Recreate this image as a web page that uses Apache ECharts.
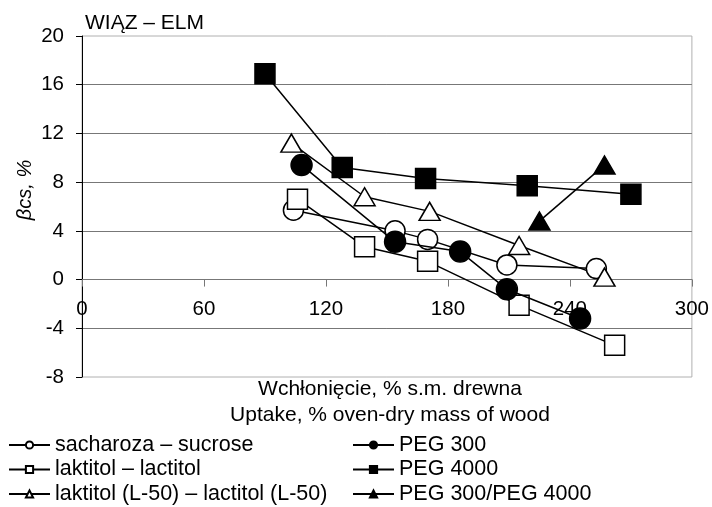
<!DOCTYPE html>
<html>
<head>
<meta charset="utf-8">
<script src="https://cdn.jsdelivr.net/npm/echarts@6/dist/echarts.min.js"></script>
<style>
html,body{margin:0;padding:0;background:#fff;}
#chart{width:712px;height:507px;}
</style>
</head>
<body>
<div id="chart"></div>
<script>
// Data: [uptake %, βcs %]
const sacharoza = [[104, 5.7], [154, 4.0], [170, 3.3], [209, 1.2], [253, 0.9]];
const laktitol = [[106, 6.6], [139, 2.7], [170, 1.5], [215, -2.1], [262, -5.4]];
const laktitolL50 = [[103, 11.2], [139, 6.8], [171, 5.6], [215, 2.8], [257, 0.2]];
const peg300 = [[108, 9.4], [154, 3.1], [186, 2.3], [209, -0.8], [245, -3.2]];
const peg4000 = [[90, 16.9], [128, 9.2], [169, 8.3], [219, 7.7], [270, 7.0]];
const peg300peg4000 = [[225, 4.8], [257, 9.4]];

const seriesNames = ['sacharoza – sucrose', 'laktitol – lactitol', 'laktitol (L-50) – lactitol (L-50)', 'PEG 300', 'PEG 4000', 'PEG 300/PEG 4000'];
const xTicks = [0, 60, 120, 180, 240, 300];
const yTicks = [-8, -4, 0, 4, 8, 12, 16, 20];
const titleText = 'WIĄZ – ELM';
const xName1 = 'Wchłonięcie, % s.m. drewna';
const xName2 = 'Uptake, % oven-dry mass of wood';
const yName = 'βcs, %';

const FONT = 'Liberation Sans, Arial, sans-serif';
const W = 712, H = 507;
const gridTop = 36, gridBottom = 130, gridLeft = 82, gridRight = 18;
const yMin = yTicks[0], yMax = yTicks[yTicks.length - 1];
const gridH = H - gridTop - gridBottom;
// place the x axis (line, ticks, labels) on y = 0
const xAxisOffset = -gridH * (0 - yMin) / (yMax - yMin);

const chart = echarts.init(document.getElementById('chart'), null, {renderer: 'canvas'});

function mk(name, data, symbol, size, filled) {
  return {
    name: name,
    type: 'line',
    data: data,
    symbol: symbol,
    symbolSize: size,
    showAllSymbol: true,
    animation: false,
    lineStyle: {color: '#000', width: 1.5},
    itemStyle: {color: filled ? '#000' : '#fff', borderColor: '#000', borderWidth: 1.5, opacity: 1},
    emphasis: {disabled: true},
    z: filled ? 3 : 2
  };
}

const legendText = {fontSize: 21.5, color: '#000', lineHeight: 21.5, fontFamily: FONT};

const option = {
  backgroundColor: '#fff',
  animation: false,
  textStyle: {fontFamily: FONT},
  grid: {left: gridLeft, right: gridRight, top: gridTop, bottom: gridBottom, show: true, borderColor: '#b0b0b0', borderWidth: 1, containLabel: false},
  xAxis: {
    type: 'value', min: xTicks[0], max: xTicks[xTicks.length - 1], interval: 60,
    position: 'bottom', offset: xAxisOffset,
    axisLine: {show: true, onZero: false, lineStyle: {color: '#777', width: 1}},
    axisTick: {show: true, inside: false, length: 7, lineStyle: {color: '#777'}},
    axisLabel: {fontSize: 20.5, color: '#000', margin: 19, fontFamily: FONT},
    splitLine: {show: false}
  },
  yAxis: {
    type: 'value', min: yMin, max: yMax, interval: 4,
    axisLine: {show: true, onZero: false, lineStyle: {color: '#000', width: 1}},
    axisTick: {show: true, length: 6, lineStyle: {color: '#000'}},
    axisLabel: {fontSize: 20.5, color: '#000', margin: 18, fontFamily: FONT},
    splitLine: {show: true, showMinLine: false, showMaxLine: false, lineStyle: {color: '#777', width: 1}}
  },
  legend: [
    {
      data: seriesNames.slice(0, 3), orient: 'vertical', left: 8, top: 434, padding: 0,
      itemWidth: 41, itemHeight: 9, itemGap: 2.5,
      textStyle: legendText, selectedMode: false
    },
    {
      data: seriesNames.slice(3), orient: 'vertical', left: 352, top: 434, padding: 0,
      itemWidth: 41, itemHeight: 9, itemGap: 2.5,
      textStyle: legendText, selectedMode: false
    }
  ],
  graphic: [
    {type: 'text', x: 85, y: 23, style: {text: titleText, font: '21px ' + FONT, fill: '#000', textVerticalAlign: 'middle'}},
    {type: 'text', x: 390, y: 389, style: {text: xName1, font: '21px ' + FONT, fill: '#000', textAlign: 'center', textVerticalAlign: 'middle'}},
    {type: 'text', x: 390, y: 415, style: {text: xName2, font: '21px ' + FONT, fill: '#000', textAlign: 'center', textVerticalAlign: 'middle'}},
    {type: 'text', x: 25, y: 190, rotation: Math.PI / 2, style: {text: yName, font: 'italic 20px ' + FONT, fill: '#000', textAlign: 'center', textVerticalAlign: 'middle'}}
  ],
  series: [
    mk(seriesNames[0], sacharoza, 'circle', 20, false),
    mk(seriesNames[1], laktitol, 'rect', 20, false),
    mk(seriesNames[2], laktitolL50, 'triangle', [21, 18], false),
    mk(seriesNames[3], peg300, 'circle', 21, true),
    mk(seriesNames[4], peg4000, 'rect', 20, true),
    mk(seriesNames[5], peg300peg4000, 'triangle', [21, 18], true)
  ]
};
chart.setOption(option);
</script>
</body>
</html>
